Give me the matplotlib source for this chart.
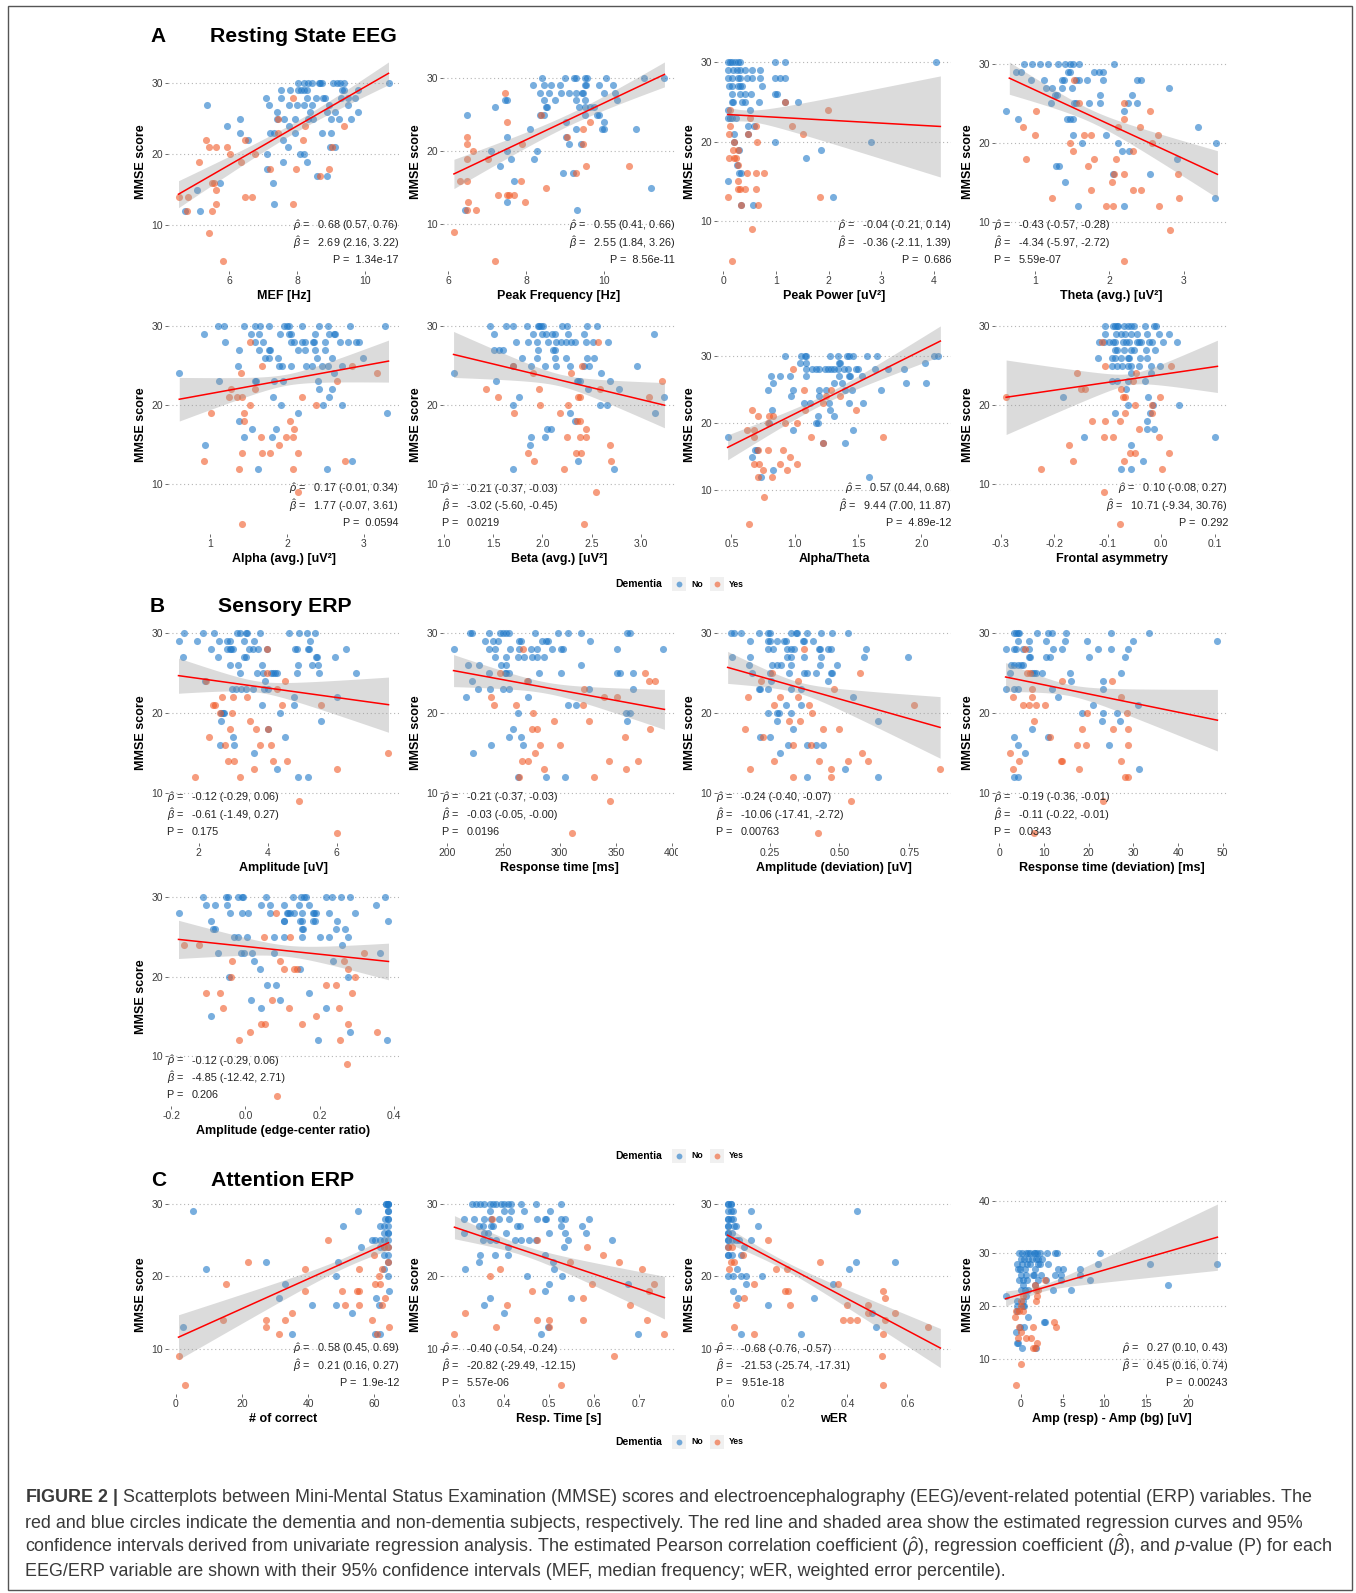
import numpy as np
import matplotlib
matplotlib.use("Agg")
import matplotlib.pyplot as plt
from matplotlib.patches import Rectangle
from matplotlib.lines import Line2D
from matplotlib.transforms import Bbox, TransformedBbox

plt.rcParams['font.family'] = ['Liberation Sans', 'DejaVu Sans']
plt.rcParams['mathtext.fontset'] = 'custom'
plt.rcParams['mathtext.rm'] = 'Liberation Sans'
plt.rcParams['mathtext.it'] = 'Liberation Sans:italic'
plt.rcParams['mathtext.bf'] = 'Liberation Sans:bold'
plt.rcParams['axes.unicode_minus'] = False

# data: MMSE score -> list of x values (No = non-dementia, Yes = dementia)
mef_no = {30: [8.02, 8.2, 8.32, 8.44, 8.64, 8.69, 8.74, 9.08, 9.18, 9.28, 9.38, 10.71],
          29: [7.52, 7.78, 8.04, 8.12, 8.2, 8.3, 9.33, 9.38, 9.82],
          28: [7.09, 7.52, 8.3, 8.55, 8.78, 8.83, 9.3, 9.5, 9.72],
          27: [5.33, 7.16, 7.75, 8.0, 8.2, 8.44, 8.96, 9.5],
          26: [7.4, 8.39, 8.88, 9.13, 9.82],
          25: [6.3, 7.4, 7.62, 7.93, 8.32, 8.47, 9.0, 9.25, 9.6],
          24: [5.94, 7.76], 23: [6.32, 7.2, 7.32, 7.95, 8.74, 9.0], 22: [6.56, 7.6],
          21: [7.73, 8.98, 9.13], 20: [7.1, 8.1, 8.2], 19: [7.58, 8.3], 18: [7.11],
          17: [8.59, 8.89], 16: [5.73, 7.3], 15: [5.03], 13: [7.33], 12: [4.69, 5.13]}
mef_yes = {28: [7.87], 25: [7.45], 24: [8.25, 9.38], 23: [7.45], 22: [5.3, 6.46, 8.18],
           21: [5.4, 5.59, 5.94, 9.05], 20: [6.03, 6.76], 19: [5.11, 6.33], 18: [7.19, 7.98, 8.94],
           17: [8.69], 16: [5.47, 5.54], 15: [5.6], 14: [4.49, 4.76, 6.45, 6.68], 13: [5.6, 7.88],
           12: [4.74, 5.48], 9: [5.39], 5: [5.82]}
mef_fit = {"x": [4.49, 10.71], "y": [14.4, 31.4], "hw": [1.9, 0.75, 1.6]}

pf_no = {30: [8.41, 8.99, 9.24, 9.27, 9.51, 9.56, 10.05, 11.03, 11.54],
         29: [8.18, 8.45, 8.65, 8.86, 9.51, 9.54, 9.88, 10.24],
         28: [8.35, 8.59, 8.9, 9.1, 9.27, 9.43, 9.47, 10.01, 10.29],
         27: [7.47, 7.5, 8.45, 8.75, 9.27, 9.51, 10.33],
         26: [7.2, 8.54, 8.5, 9.37, 9.51, 9.65, 9.74],
         25: [6.48, 8.35, 8.45, 9.5, 9.81, 9.88], 24: [9.03, 10.01],
         23: [8.11, 9.27, 9.95, 10.01, 10.83], 22: [7.5, 9.02], 21: [9.1, 9.4],
         20: [7.09, 7.5, 8.29], 19: [7.61, 8.2], 18: [7.33], 17: [8.95, 9.2], 16: [7.7],
         15: [11.21], 13: [7.5], 12: [6.44, 9.31]}
pf_yes = {28: [7.47], 25: [8.38], 24: [7.5, 9.65], 23: [9.47], 22: [6.48, 9.06],
          21: [6.48, 7.9, 9.47], 20: [6.65], 19: [6.49, 7.02], 18: [9.54, 10.63], 17: [9.27],
          16: [6.31, 6.48, 7.88], 15: [8.52], 14: [7.29, 7.5, 7.55, 7.7], 13: [6.52, 7.97],
          12: [6.48, 6.72], 9: [6.14], 5: [7.2]}
pf_fit = {"x": [6.15, 11.55], "y": [16.9, 30.5], "hw": [2.0, 0.8, 1.7]}

pp_no = {30: [0.08, 0.13, 0.17, 0.22, 0.27, 0.32, 0.98, 1.16, 4.04],
         29: [0.08, 0.19, 0.25, 0.32, 0.41, 0.55, 0.7],
         28: [0.08, 0.17, 0.27, 0.32, 0.44, 0.55, 0.7, 0.98, 1.07, 1.17],
         27: [0.11, 0.17, 0.27, 0.32, 0.36, 0.74], 26: [0.16, 0.32, 0.41, 0.52, 0.98, 1.01],
         25: [0.17, 0.19, 0.35, 0.41, 0.68, 1.17, 1.42], 24: [0.08, 0.5],
         23: [0.08, 0.13, 0.17, 0.23], 22: [0.46, 0.59], 21: [0.2, 0.47], 20: [0.2, 0.98, 2.81],
         19: [0.3, 1.85], 18: [1.56], 17: [0.25], 16: [0.3, 0.34], 15: [0.08], 13: [2.08],
         12: [0.34, 0.57]}
pp_yes = {25: [1.17], 24: [0.13, 1.98], 23: [0.5], 22: [0.13, 0.61, 1.31], 21: [0.11, 0.47, 1.52],
          20: [0.2, 0.64], 19: [0.19, 0.28], 18: [0.11, 0.2, 0.23], 17: [0.28],
          16: [0.44, 0.61, 0.78], 15: [0.27], 14: [0.27, 0.32, 0.41, 0.61], 13: [0.08, 1.83],
          12: [0.34, 0.66], 9: [0.55], 5: [0.16]}
pp_fit = {"x": [0.08, 4.12], "y": [23.4, 21.9], "hw": [0.9, 0.7, 6.35]}

th_no = {30: [0.86, 0.96, 1.07, 1.18, 1.31, 1.41, 1.48, 1.52, 1.6, 2.07],
         29: [0.75, 0.81, 1.45, 1.48, 1.8, 1.86, 1.91],
         28: [0.95, 1.13, 1.36, 1.39, 1.56, 1.6, 1.7, 1.91, 2.37, 2.43],
         27: [1.15, 1.23, 1.36, 1.5, 2.8], 26: [1.27, 1.3, 1.88, 2.3],
         25: [1.22, 1.53, 1.56, 1.73, 1.88, 2.25, 2.37], 24: [0.61, 2.2],
         23: [0.77, 1.43, 1.48, 1.52], 22: [3.19], 21: [1.52, 1.95], 20: [1.63, 2.12, 3.43],
         19: [2.17, 2.27], 18: [2.91], 17: [1.29, 1.32], 16: [2.05, 2.55], 15: [1.41],
         13: [3.42], 12: [1.58, 2.2]}
th_yes = {28: [1.53], 25: [1.6, 2.2], 24: [1.02, 2.55], 23: [2.2], 22: [0.84, 2.12, 2.41],
          21: [1.01, 1.66, 1.75, 2.66], 20: [1.48, 2.57], 19: [1.52, 2.32], 18: [0.89, 1.8, 2.09],
          17: [1.72], 16: [2.07, 2.2, 2.92], 15: [2.03], 14: [1.75, 2.32, 2.43], 13: [1.23, 2.94],
          12: [1.95, 2.05, 2.67], 9: [2.81], 5: [2.2]}
th_fit = {"x": [0.66, 3.45], "y": [28.2, 16.0], "hw": [2.05, 0.8, 3.0]}

al_no = {30: [1.1, 1.18, 1.44, 1.58, 1.65, 1.76, 1.96, 2.0, 2.03, 2.19, 2.42, 2.53, 2.82, 3.27],
         29: [0.92, 1.53, 1.64, 1.91, 2.02, 2.05, 2.36, 2.55, 2.61, 2.62],
         28: [1.2, 1.59, 1.69, 2.05, 2.09, 2.2, 2.24, 2.34, 2.35, 2.49, 2.69, 2.79, 2.9, 2.94],
         27: [1.37, 1.63, 1.76, 1.78, 2.14, 2.24, 2.37, 2.49],
         26: [1.71, 1.77, 1.88, 2.39, 2.59, 2.99],
         25: [1.36, 1.9, 1.93, 2.05, 2.25, 2.32, 2.46, 2.53, 2.72], 24: [0.59, 2.61],
         23: [1.11, 1.58, 1.6, 1.83, 1.95, 2.4], 22: [2.41, 2.59], 21: [1.82, 2.55],
         20: [1.92, 2.47, 2.71], 19: [2.14, 3.3], 18: [1.37], 17: [1.55, 1.86], 16: [1.44, 1.8],
         15: [0.94], 13: [2.84], 12: [1.62, 2.52]}
al_yes = {28: [1.52], 25: [1.67, 2.85], 24: [1.4, 3.17], 23: [2.65], 22: [1.27, 1.59],
          21: [1.25, 1.35, 1.42, 2.19], 20: [1.52, 2.38], 19: [1.01, 1.44], 18: [1.44, 2.04],
          17: [2.09], 16: [1.66, 1.99, 2.08], 15: [1.9], 14: [1.42, 1.67, 1.78, 2.14],
          13: [0.92, 2.76], 12: [1.37, 2.08], 9: [2.14], 5: [1.42]}
al_fit = {"x": [0.6, 3.32], "y": [20.75, 25.56], "hw": [2.75, 0.7, 2.65]}

be_no = {30: [1.47, 1.63, 1.7, 1.85, 1.96, 1.97, 1.99, 2.01, 2.2, 2.25, 2.45, 2.56],
         29: [1.51, 1.91, 2.0, 2.04, 2.1, 2.13, 2.26, 2.42, 3.13],
         28: [1.73, 1.86, 1.95, 2.06, 2.14, 2.19, 2.24, 2.29, 2.33, 2.44, 2.51, 2.67],
         27: [1.51, 1.56, 1.6, 1.96, 2.11, 2.13], 26: [1.79, 1.95, 2.13, 2.24, 2.45, 2.53],
         25: [1.7, 1.89, 2.03, 2.14, 2.28, 2.42, 2.47, 2.96], 24: [1.1, 2.6],
         23: [1.53, 2.35, 2.36, 2.38, 2.69], 22: [2.46, 2.78], 21: [1.76, 3.24],
         20: [1.7, 2.59, 2.66], 19: [2.28, 3.14], 18: [2.33], 17: [2.05, 2.09], 16: [1.89, 2.03],
         15: [1.88], 13: [2.36], 12: [1.7, 2.73]}
be_yes = {28: [2.57], 25: [1.7, 2.4], 24: [1.91, 2.29], 23: [3.22], 22: [1.43, 1.97, 2.59],
          21: [1.55, 2.36, 2.38, 3.08], 20: [1.98, 2.26], 19: [1.71, 2.18], 18: [2.35, 2.38],
          17: [2.44], 16: [2.25, 2.38, 2.44], 15: [2.69], 14: [1.86, 2.34, 2.39], 13: [1.92, 2.7],
          12: [2.22], 9: [2.55], 5: [2.42]}
be_fit = {"x": [1.1, 3.24], "y": [26.4, 20.0], "hw": [2.9, 0.75, 2.85]}

at_no = {30: [0.92, 1.05, 1.08, 1.09, 1.28, 1.34, 1.41, 1.43, 1.46, 1.57, 1.65, 2.1, 2.13],
         29: [1.04, 1.09, 1.35, 1.36, 2.03],
         28: [1.09, 1.14, 1.17, 1.19, 1.24, 1.26, 1.29, 1.31, 1.34, 1.39, 1.42, 1.48, 1.5,
              1.63, 1.74, 1.86],
         27: [0.81, 0.88, 0.96, 1.09, 1.35, 1.43, 1.44, 1.53], 26: [0.83, 1.31, 1.37, 1.88, 2.04],
         25: [0.79, 0.99, 1.19, 1.25, 1.4, 1.45, 1.68], 24: [0.97, 1.19],
         23: [1.07, 1.12, 1.27, 1.43, 1.54], 22: [0.82, 1.28], 21: [1.18, 1.31],
         20: [0.8, 1.17, 1.18], 19: [0.99, 1.46], 18: [0.47], 17: [1.22, 1.4], 16: [0.69, 0.7],
         15: [0.66], 13: [0.83], 12: [0.73, 1.59]}
at_yes = {28: [0.99], 25: [1.07, 1.29], 24: [1.25, 1.36], 23: [1.22], 22: [0.66, 1.08, 1.48],
          21: [0.71, 0.8, 0.83], 20: [0.79, 0.92, 1.02], 19: [0.62, 0.68], 18: [0.68, 1.13, 1.7],
          17: [1.22], 16: [0.71, 0.79, 0.91], 15: [0.96], 14: [0.68, 0.72, 0.88, 1.02],
          13: [0.75, 0.94], 12: [0.71, 0.82], 9: [0.76], 5: [0.64]}
at_fit = {"x": [0.47, 2.15], "y": [16.4, 32.2], "hw": [1.85, 0.65, 2.25]}

fa_no = {30: [-0.105, -0.091, -0.087, -0.083, -0.08, -0.069, -0.063, -0.057, -0.051, -0.03,
              -0.013, -0.009],
         29: [-0.105, -0.085, -0.075, -0.067, -0.057, -0.045, -0.027, -0.005, 0.015],
         28: [-0.117, -0.107, -0.098, -0.09, -0.087, -0.071, -0.065, -0.06, -0.045, -0.042,
              -0.037, -0.023, -0.017, 0.003, 0.029],
         27: [-0.087, -0.083, -0.069, -0.057, -0.051, -0.029, -0.011],
         26: [-0.118, -0.093, -0.087, -0.075, -0.063, -0.06, -0.04, -0.027],
         25: [-0.093, -0.083, -0.073, -0.063, -0.057, -0.042, -0.02, -0.002],
         24: [-0.057, -0.02], 23: [-0.093, -0.083, -0.062, -0.03], 22: [-0.065],
         21: [-0.183, -0.025], 20: [-0.063, -0.015, 0.033], 19: [-0.087, -0.021], 18: [-0.027],
         17: [-0.027, -0.013], 16: [-0.145, 0.1], 15: [-0.057], 13: [-0.035], 12: [-0.075, -0.057]}
fa_yes = {28: [-0.111], 25: [-0.105, 0.019], 24: [-0.158, -0.047], 23: [-0.053],
          22: [-0.15, -0.143, -0.075], 21: [-0.291, -0.071, -0.067, -0.002], 20: [-0.05, -0.017],
          19: [-0.067, -0.017], 18: [-0.129, -0.105, -0.078], 17: [-0.042],
          16: [-0.107, -0.09, -0.005], 15: [-0.173], 14: [-0.058, -0.05, 0.015],
          13: [-0.165, -0.069], 12: [-0.225, 0.002], 9: [-0.107], 5: [-0.077]}
fa_fit = {"x": [-0.29, 0.105], "y": [21.0, 24.9], "hw": [4.7, 0.7, 3.3]}

amp_no = {30: [1.58, 2.13, 2.46, 3.11, 3.19, 3.36, 3.41, 3.79, 4.62, 4.91, 5.13, 5.36],
          29: [1.42, 1.95, 2.58, 2.82, 2.9, 3.33, 3.62, 5.24],
          28: [2.36, 2.82, 2.9, 2.94, 3.0, 3.45, 3.58, 3.72, 3.97, 4.78, 4.84, 5.17, 5.2, 6.26],
          27: [1.54, 2.55, 3.31, 3.36, 5.39, 5.44, 5.94], 26: [2.9, 3.13, 3.84, 4.88, 5.29, 5.46],
          25: [3.21, 3.68, 3.87, 4.1, 4.16, 4.2, 4.26, 4.86, 5.49, 6.55], 24: [2.19, 3.91],
          23: [2.97, 3.09, 3.23, 3.38, 3.58, 3.89, 4.0], 22: [4.76, 6.02], 21: [3.84, 4.76],
          20: [2.65, 2.71, 2.75, 4.37], 19: [2.65, 5.55], 18: [4.0], 17: [3.0, 4.49],
          16: [2.63, 3.04], 15: [3.6], 13: [4.26], 12: [4.89, 5.18]}
amp_yes = {28: [3.97], 25: [3.97], 24: [2.22, 4.49], 23: [4.28], 22: [2.68, 3.0, 3.4],
           21: [2.42, 2.48, 4.42, 5.55], 20: [2.63, 2.97], 19: [3.5], 18: [2.9, 3.65, 4.0],
           17: [2.29], 16: [2.77, 3.79, 4.1], 15: [7.5], 14: [2.84, 3.04, 4.16, 4.55],
           13: [3.62, 6.02], 12: [1.9, 3.21], 9: [4.91], 5: [6.0]}
amp_fit = {"x": [1.42, 7.5], "y": [24.67, 21.04], "hw": [2.2, 0.7, 3.45]}

rt_no = {30: [220.6, 222, 237.5, 246.8, 250, 252.4, 254.8, 278.2, 298.4, 307.7, 319, 360.2, 362.5],
         29: [233.7, 240.7, 245.4, 264.2, 265.6, 284.3, 287.6, 290, 327.4],
         28: [206, 237.5, 243.1, 255.7, 264.2, 274.9, 279.6, 293.7, 301.6, 303, 350.8, 392],
         27: [243.1, 252.5, 262.8, 268.9, 275.9, 279.6, 286.2],
         26: [218.7, 229, 247.8, 252.5, 319],
         25: [237.5, 251.5, 252.5, 254.8, 281.5, 301.6, 350.8, 353.2, 364.9], 24: [222, 272.1],
         23: [228.1, 238.4, 250.1, 254.8, 326.5, 364.9], 22: [217.3, 272.1], 21: [307.7, 314.3],
         20: [262.8, 359.3, 362.5], 19: [360.2], 18: [258.5], 17: [254.8, 265.6],
         16: [239.3, 267.4], 15: [223.4], 12: [262.8, 287.6, 304.9]}
rt_yes = {28: [267.4], 25: [246.8, 375.6], 24: [271.2, 378.9, 384.5], 23: [321.8],
          22: [239.3, 339.1, 350.8], 21: [242.2, 261.8, 320.4], 20: [276.8], 19: [295.5, 326],
          18: [275.9, 279.6, 380.3], 17: [357.8], 16: [282.9, 300.7], 15: [278.2],
          14: [266.5, 272.1, 343.8, 369.6], 13: [286.2, 359.3], 12: [264.2, 330.7],
          9: [344.7], 5: [311]}
rt_fit = {"x": [206, 393], "y": [25.3, 20.45], "hw": [2.0, 0.7, 2.5]}

ad_no = {30: [0.111, 0.124, 0.149, 0.212, 0.244, 0.25, 0.326, 0.345, 0.349, 0.384, 0.435,
              0.473, 0.531],
         29: [0.181, 0.244, 0.25, 0.277, 0.302, 0.307, 0.368, 0.372, 0.406],
         28: [0.244, 0.263, 0.311, 0.326, 0.339, 0.426, 0.429, 0.46, 0.468, 0.594],
         27: [0.116, 0.181, 0.311, 0.326, 0.372, 0.435, 0.588, 0.746],
         26: [0.177, 0.258, 0.277, 0.292, 0.326, 0.429, 0.492],
         25: [0.187, 0.25, 0.321, 0.372, 0.384, 0.416, 0.468, 0.473], 24: [0.254, 0.46],
         23: [0.212, 0.216, 0.244, 0.326, 0.364], 22: [0.55], 21: [0.307, 0.364],
         20: [0.244, 0.277, 0.282, 0.326], 19: [0.277, 0.639], 18: [0.334], 17: [0.216, 0.25],
         16: [0.315, 0.384, 0.416, 0.441], 15: [0.288], 13: [0.521], 12: [0.384, 0.639]}
ad_yes = {28: [0.372], 25: [0.258, 0.574], 24: [0.219, 0.353], 23: [0.479],
          22: [0.174, 0.288, 0.353], 21: [0.267, 0.391, 0.765], 20: [0.403], 19: [0.321, 0.359],
          18: [0.162, 0.441, 0.498], 17: [0.225], 16: [0.334, 0.397], 15: [0.582],
          14: [0.267, 0.426, 0.531, 0.601], 13: [0.181, 0.468, 0.861], 12: [0.334, 0.468],
          9: [0.54], 5: [0.422]}
ad_fit = {"x": [0.1, 0.86], "y": [25.7, 18.2], "hw": [2.0, 0.7, 3.85]}

rd_no = {30: [3.3, 3.8, 4.2, 4.5, 8.4, 10.8, 11.7, 15, 24.9, 33.5],
         29: [4.2, 6.6, 10.5, 14.6, 19.7, 29.9, 48.8],
         28: [1.4, 3.3, 3.8, 5.4, 6.6, 12, 14.1, 22.1, 24.9, 28.9],
         27: [6.6, 6.9, 10.5, 11.4, 20.1, 28.1], 26: [2.6, 3.3, 4.2, 4.8, 5.4],
         25: [2.4, 7.2, 7.8, 8.1, 9.6, 15.8, 27.3], 24: [16.1, 23.3],
         23: [1.4, 3.3, 4.2, 11.7, 23.3], 22: [13.2], 21: [20.9, 31.1], 20: [18.5, 23.3, 26.3],
         19: [23, 26.9], 18: [7.2], 17: [3.3, 11], 16: [4.2, 24.5], 15: [5.7], 13: [31.3],
         12: [3.3, 4.2]}
rd_yes = {28: [5.7], 25: [6.2, 6.9], 24: [14.1, 25.1], 23: [7.4], 22: [3, 7.2, 27.3],
          21: [5.4, 6.6, 8.1, 10.2], 20: [19.7, 28.5], 19: [7.8], 18: [18.5, 25.4, 28.9],
          17: [11.4], 16: [17.3, 19.4, 28.9], 15: [2.4], 14: [4.5, 13.8, 14.1, 27.3],
          13: [3, 17.9], 12: [28.1, 28.7], 9: [23.3], 5: [7.8]}
rd_fit = {"x": [1.4, 48.8], "y": [24.5, 19.1], "hw": [1.8, 0.7, 3.85]}

ec_no = {30: [-0.114, -0.051, -0.048, -0.021, -0.009, -0.006, 0.056, 0.128, 0.149, 0.157, 0.164,
              0.217, 0.233, 0.257, 0.282, 0.376],
         29: [-0.107, -0.083, -0.049, 0.042, 0.065, 0.105, 0.143, 0.17, 0.352],
         28: [-0.179, -0.042, -0.009, 0.006, 0.067, 0.112, 0.114, 0.119, 0.132, 0.152, 0.182,
              0.185, 0.191, 0.226, 0.295],
         27: [-0.092, 0.103, 0.105, 0.146, 0.152, 0.182, 0.188, 0.246, 0.383],
         26: [-0.087, -0.081, 0.152, 0.155, 0.244, 0.268],
         25: [-0.031, -0.021, 0.004, 0.078, 0.103, 0.152, 0.2, 0.226, 0.277], 24: [0.26],
         23: [-0.074, -0.013, -0.004, 0.018, 0.078, 0.361], 22: [0.024, 0.237], 21: [0.038, 0.146],
         20: [-0.045, 0.277], 19: [0.058, 0.081], 18: [0.17], 17: [0.015, 0.094],
         16: [0.042, 0.217], 15: [-0.092], 13: [0.282], 12: [0.194, 0.382]}
ec_yes = {28: [0.081], 25: [0.051, 0.119], 24: [-0.164, -0.125], 23: [0.319],
          22: [-0.036, 0.094, 0.264], 21: [0.105, 0.13, 0.139, 0.275], 20: [-0.04, 0.295],
          19: [0.217, 0.244], 18: [-0.105, -0.069, 0.286], 17: [0.072], 16: [-0.06, 0.116, 0.253],
          15: [0.191], 14: [0.042, 0.054, 0.152, 0.277], 13: [0.013, 0.353], 12: [-0.018, 0.255],
          9: [0.273], 5: [0.085]}
ec_fit = {"x": [-0.18, 0.385], "y": [24.67, 21.9], "hw": [2.4, 0.7, 2.3]}

nc_no = {30: [64, 64, 64, 63.5, 63.5], 29: [5.1, 55.2, 64, 64], 28: [64, 64, 63.2],
         27: [50.4, 64, 62.9, 61.6], 26: [64, 64, 62.9], 25: [64, 62.9, 61.6, 60.3, 59.2],
         24: [56, 64, 62.9, 61.6], 23: [64, 62.9], 22: [27.2, 49.1, 64], 21: [9.1, 62.9],
         20: [48.3, 64], 19: [33.1], 18: [64.3], 17: [31.2, 60.5], 16: [41.1, 48.3, 61.3],
         15: [53.3], 13: [2.1], 12: [35.2, 60.3, 61.6]}
nc_yes = {25: [46.1], 24: [62.9, 64], 23: [60], 22: [21.9, 64], 21: [39.2, 55.5, 62.4],
          20: [61.3], 19: [15.2, 60.3, 61.6], 18: [39.2, 50.1, 54.9, 55.5], 17: [63.2],
          16: [51.2, 55.5, 62.4], 15: [35.2], 14: [14.4, 27.2, 33.1, 59.2], 13: [27.2, 64.3],
          12: [31.2, 60.8], 9: [0.8], 5: [2.9]}
nc_fit = {"x": [0.8, 64.3], "y": [11.6, 24.65], "hw": [3.1, 0.7, 1.0]}

rs_no = {30: [0.329, 0.338, 0.347, 0.356, 0.368, 0.376, 0.382, 0.394, 0.4, 0.408, 0.415, 0.438,
              0.471, 0.526],
         29: [0.368, 0.4, 0.415, 0.444, 0.502],
         28: [0.312, 0.333, 0.356, 0.371, 0.388, 0.412, 0.474, 0.491, 0.494, 0.526, 0.535, 0.588],
         27: [0.345, 0.353, 0.371, 0.376, 0.429, 0.435, 0.526, 0.573],
         26: [0.312, 0.356, 0.365, 0.404, 0.5, 0.535, 0.582],
         25: [0.353, 0.368, 0.382, 0.424, 0.438, 0.455, 0.471, 0.541, 0.639], 24: [0.408, 0.533],
         23: [0.347, 0.38, 0.408, 0.491], 22: [0.345, 0.509], 21: [0.314, 0.512],
         20: [0.451, 0.529], 19: [0.5, 0.676], 18: [0.491], 17: [0.368, 0.549], 16: [0.356],
         15: [0.4], 13: [0.498], 12: [0.482, 0.698]}
rs_yes = {28: [0.373], 25: [0.474], 24: [0.585], 23: [0.62], 22: [0.547, 0.655],
          21: [0.392, 0.706], 20: [0.368], 19: [0.596, 0.733], 18: [0.462, 0.721], 17: [0.576],
          16: [0.406, 0.679], 15: [0.314], 14: [0.474, 0.5, 0.576, 0.718], 13: [0.382, 0.5],
          12: [0.288, 0.756], 9: [0.644], 5: [0.526]}
rs_fit = {"x": [0.29, 0.756], "y": [26.8, 17.07], "hw": [1.6, 0.7, 2.95]}

wer_no = {30: [0.0, 0.0, 0.01, 0.01], 29: [0.0, 0.01, 0.019, 0.078, 0.432],
          28: [0.0, 0.0, 0.01, 0.019], 27: [0.0, 0.0, 0.022, 0.027, 0.101], 26: [0.0, 0.0, 0.014],
          25: [0.0, 0.0, 0.014, 0.027, 0.039, 0.078], 24: [0.0, 0.056], 23: [0.0, 0.0, 0.014, 0.044],
          22: [0.427, 0.557], 21: [0.03, 0.405], 20: [0.0, 0.017, 0.044, 0.061, 0.115],
          19: [0.061, 0.351], 18: [0.017], 17: [0.034, 0.287], 16: [0.135], 15: [0.483],
          13: [0.495], 12: [0.044, 0.246]}
wer_yes = {25: [0.135], 24: [0.0, 0.014], 23: [0.051], 22: [0.01, 0.022, 0.309],
           21: [0.005, 0.162, 0.199], 19: [0.089, 0.368], 18: [0.191, 0.203, 0.52],
           17: [0.056, 0.524], 16: [0.027, 0.208, 0.398, 0.469], 15: [0.469, 0.557],
           14: [0.385, 0.41, 0.432, 0.524], 13: [0.022, 0.668], 12: [0.089, 0.52],
           9: [0.516], 5: [0.52]}
wer_fit = {"x": [0.0, 0.71], "y": [25.7, 10.1], "hw": [1.1, 0.6, 2.7]}

ab_no = {30: [-0.2, 0.2, 0.6, 0.89, 1.13, 1.54, 1.7, 1.94, 2.34, 3.15, 4.12, 4.36, 9.49],
         29: [0.0, 0.4, 0.89, 1.29, 1.82, 2.1, 2.5],
         28: [-0.4, 0.2, 0.73, 1.13, 2.1, 2.34, 3.23, 9.21, 15.43, 23.5],
         27: [-0.32, -0.08, 0.48, 1.7, 4.44, 5.05, 7.07],
         26: [0.08, 0.6, 1.41, 1.62, 2.42, 4.04, 4.77, 7.07],
         25: [-0.2, 0.32, 0.73, 2.1, 3.03, 4.77, 8.28], 24: [0.32, 1.7, 17.58],
         23: [0.08, 0.48, 0.89, 3.84, 5.98], 22: [-1.82, 0.6], 21: [-0.48, 0.32],
         20: [-0.48, 0.32, 0.4], 19: [-0.48], 18: [0.89], 17: [2.75, 2.91], 16: [-0.08, 0.4],
         15: [-0.61], 13: [-0.48, -0.32], 12: [0.2, 1.82]}
ab_yes = {25: [2.91], 24: [1.7], 23: [1.82, 2.1], 22: [0.32, 1.94], 21: [0.08, 1.82], 20: [0.08],
          19: [-0.61, -0.2, 0.32], 18: [-0.73], 17: [3.96], 16: [-0.2, 1.41, 4.24], 15: [0.0],
          14: [-0.32, 0.6, 1.21], 13: [1.94], 12: [1.41, 1.7], 9: [0.08], 5: [-0.61]}
ab_fit = {"x": [-1.82, 23.5], "y": [21.4, 33.1], "hw": [1.45, 0.65, 6.3]}

# stats text: rho, beta, P
stats = {
    "mef": ["0.68 (0.57, 0.76)", "2.69 (2.16, 3.22)", "1.34e-17"],
    "pf": ["0.55 (0.41, 0.66)", "2.55 (1.84, 3.26)", "8.56e-11"],
    "pp": ["-0.04 (-0.21, 0.14)", "-0.36 (-2.11, 1.39)", "0.686"],
    "th": ["-0.43 (-0.57, -0.28)", "-4.34 (-5.97, -2.72)", "5.59e-07"],
    "al": ["0.17 (-0.01, 0.34)", "1.77 (-0.07, 3.61)", "0.0594"],
    "be": ["-0.21 (-0.37, -0.03)", "-3.02 (-5.60, -0.45)", "0.0219"],
    "at": ["0.57 (0.44, 0.68)", "9.44 (7.00, 11.87)", "4.89e-12"],
    "fa": ["0.10 (-0.08, 0.27)", "10.71 (-9.34, 30.76)", "0.292"],
    "amp": ["-0.12 (-0.29, 0.06)", "-0.61 (-1.49, 0.27)", "0.175"],
    "rt": ["-0.21 (-0.37, -0.03)", "-0.03 (-0.05, -0.00)", "0.0196"],
    "ad": ["-0.24 (-0.40, -0.07)", "-10.06 (-17.41, -2.72)", "0.00763"],
    "rd": ["-0.19 (-0.36, -0.01)", "-0.11 (-0.22, -0.01)", "0.0343"],
    "ec": ["-0.12 (-0.29, 0.06)", "-4.85 (-12.42, 2.71)", "0.206"],
    "nc": ["0.58 (0.45, 0.69)", "0.21 (0.16, 0.27)", "1.9e-12"],
    "rs": ["-0.40 (-0.54, -0.24)", "-20.82 (-29.49, -12.15)", "5.57e-06"],
    "wer": ["-0.68 (-0.76, -0.57)", "-21.53 (-25.74, -17.31)", "9.51e-18"],
    "ab": ["0.27 (0.10, 0.43)", "0.45 (0.16, 0.74)", "0.00243"],
}

# key, row, col, no, yes, fit, xlabel, xticks, xticklabels, stats side
panels = [
    ("mef", 0, 0, mef_no, mef_yes, mef_fit, "MEF [Hz]", [6, 8, 10], ["6", "8", "10"], "right"),
    ("pf", 0, 1, pf_no, pf_yes, pf_fit, "Peak Frequency [Hz]", [6, 8, 10], ["6", "8", "10"], "right"),
    ("pp", 0, 2, pp_no, pp_yes, pp_fit, "Peak Power [uV²]", [0, 1, 2, 3, 4],
     ["0", "1", "2", "3", "4"], "right"),
    ("th", 0, 3, th_no, th_yes, th_fit, "Theta (avg.) [uV²]", [1, 2, 3], ["1", "2", "3"], "left"),
    ("al", 1, 0, al_no, al_yes, al_fit, "Alpha (avg.) [uV²]", [1, 2, 3], ["1", "2", "3"], "right"),
    ("be", 1, 1, be_no, be_yes, be_fit, "Beta (avg.) [uV²]", [1.0, 1.5, 2.0, 2.5, 3.0],
     ["1.0", "1.5", "2.0", "2.5", "3.0"], "left"),
    ("at", 1, 2, at_no, at_yes, at_fit, "Alpha/Theta", [0.5, 1.0, 1.5, 2.0],
     ["0.5", "1.0", "1.5", "2.0"], "right"),
    ("fa", 1, 3, fa_no, fa_yes, fa_fit, "Frontal asymmetry", [-0.3, -0.2, -0.1, 0.0, 0.1],
     ["-0.3", "-0.2", "-0.1", "0.0", "0.1"], "right"),
    ("amp", 2, 0, amp_no, amp_yes, amp_fit, "Amplitude [uV]", [2, 4, 6], ["2", "4", "6"], "left"),
    ("rt", 2, 1, rt_no, rt_yes, rt_fit, "Response time [ms]", [200, 250, 300, 350, 400],
     ["200", "250", "300", "350", "400"], "left"),
    ("ad", 2, 2, ad_no, ad_yes, ad_fit, "Amplitude (deviation) [uV]", [0.25, 0.5, 0.75],
     ["0.25", "0.50", "0.75"], "left"),
    ("rd", 2, 3, rd_no, rd_yes, rd_fit, "Response time (deviation) [ms]", [0, 10, 20, 30, 40, 50],
     ["0", "10", "20", "30", "40", "50"], "left"),
    ("ec", 3, 0, ec_no, ec_yes, ec_fit, "Amplitude (edge-center ratio)", [-0.2, 0.0, 0.2, 0.4],
     ["-0.2", "0.0", "0.2", "0.4"], "left"),
    ("nc", 4, 0, nc_no, nc_yes, nc_fit, "# of correct", [0, 20, 40, 60], ["0", "20", "40", "60"], "right"),
    ("rs", 4, 1, rs_no, rs_yes, rs_fit, "Resp. Time [s]", [0.3, 0.4, 0.5, 0.6, 0.7],
     ["0.3", "0.4", "0.5", "0.6", "0.7"], "left"),
    ("wer", 4, 2, wer_no, wer_yes, wer_fit, "wER", [0.0, 0.2, 0.4, 0.6], ["0.0", "0.2", "0.4", "0.6"], "left"),
    ("ab", 4, 3, ab_no, ab_yes, ab_fit, "Amp (resp) - Amp (bg) [uV]", [0, 5, 10, 15, 20],
     ["0", "5", "10", "15", "20"], "right"),
]

W, H = 1356, 1593
BLUE = "#1f78c8"
ORANGE = "#f05a28"
cols = [(168, 399), (443, 675), (717, 951), (995, 1228)]
rows = [(52, 271), (316, 534), (623, 843), (887, 1106), (1195, 1394)]

fig = plt.figure(figsize=(W / 100, H / 100), dpi=100)


def to_xy(d):
    xs, ys = [], []
    for score, vals in d.items():
        xs += vals
        ys += [score] * len(vals)
    return np.array(xs, float), np.array(ys, float)


def ribbon(fit):
    x0, x1 = fit["x"]
    y0, y1 = fit["y"]
    hl, hc, hr = fit["hw"]
    r = np.sqrt((hl ** 2 - hc ** 2) / (hr ** 2 - hc ** 2))
    xc = (x0 + r * x1) / (1 + r)
    k = (hr ** 2 - hc ** 2) / (x1 - xc) ** 2
    xs = np.linspace(x0, x1, 100)
    ys = y0 + (y1 - y0) * (xs - x0) / (x1 - x0)
    hw = np.sqrt(hc ** 2 + k * (xs - xc) ** 2)
    return xs, ys - hw, ys + hw


for key, r, c, no, yes, fit, xlabel, xticks, xticklabels, side in panels:
    l, rr = cols[c]
    t, b = rows[r]
    ax = fig.add_axes([l / W, 1 - b / H, (rr - l) / W, (b - t) / H])
    xn, yn = to_xy(no)
    xy_, yy_ = to_xy(yes)
    bx, blo, bhi = ribbon(fit)

    ax.scatter(xn, yn, s=26, color=BLUE, alpha=0.6, linewidths=0, zorder=2)
    ax.scatter(xy_, yy_, s=26, color=ORANGE, alpha=0.6, linewidths=0, zorder=2)
    ax.fill_between(bx, blo, bhi, color="#999999", alpha=0.35, linewidth=0, zorder=3)
    ax.plot(fit["x"], fit["y"], color="#ff0000", lw=1.1, zorder=4)

    # ggplot-like 5% expansion
    allx = np.concatenate([xn, xy_, fit["x"]])
    ally = np.concatenate([yn, yy_, blo, bhi])
    dx = (allx.max() - allx.min()) * 0.05
    dy = (ally.max() - ally.min()) * 0.05
    ax.set_xlim(allx.min() - dx, allx.max() + dx)
    ax.set_ylim(ally.min() - dy, ally.max() + dy)

    yt = [v for v in [10, 20, 30, 40] if ally.min() - dy < v < ally.max() + dy]
    ax.set_yticks(yt)
    ax.set_yticklabels([str(v) for v in yt])
    ax.set_xticks(xticks)
    ax.set_xticklabels(xticklabels)
    ax.yaxis.grid(True, linestyle=(0, (1, 2.5)), color="#b5b5b5", lw=0.8)
    ax.set_axisbelow(True)
    for s in ax.spines.values():
        s.set_visible(False)
    ax.tick_params(length=2.2, width=0.6, color="#555555", labelsize=7.5,
                   labelcolor="#3c3c3c", pad=1.5)
    ax.set_xlabel(xlabel, fontsize=9, fontweight="bold", labelpad=3)
    ax.set_ylabel("MMSE score", fontsize=9, fontweight="bold", labelpad=3)

    if key == "rt":
        clip = TransformedBbox(Bbox([[-0.1, -1.0], [1.012, 1.0]]), ax.transAxes)
        for tk in ax.xaxis.get_major_ticks():
            tk.label1.set_clip_box(clip)
            tk.label1.set_clip_on(True)

    # stats annotation
    ph = b - t
    labs = [r"$\hat{\rho}$ =", r"$\hat{\beta}$ =", "P ="]
    offs = [45.5, 28.2, 11.0]
    for lab, val, off in zip(labs, stats[key], offs):
        yy = off / ph
        if side == "right":
            gap = "   " if lab != "P =" else "  "
            ax.text(1.0, yy, lab + gap + val, transform=ax.transAxes, ha="right", va="center",
                    fontsize=7.8, color="#222222", zorder=5)
        else:
            ax.text(-1.0 / (rr - l), yy, lab, transform=ax.transAxes, ha="left", va="center",
                    fontsize=7.8, color="#222222", zorder=5)
            ax.text(24.0 / (rr - l), yy, val, transform=ax.transAxes, ha="left", va="center",
                    fontsize=7.8, color="#222222", zorder=5)

# section titles
for lbl, title, xl, xt, yc in [("A", "Resting State EEG", 150, 210, 36.5),
                               ("B", "Sensory ERP", 150, 218, 606),
                               ("C", "Attention ERP", 151, 211, 1180)]:
    fig.text(xl / W, 1 - yc / H, lbl, fontsize=15, fontweight="bold", va="center", ha="left")
    fig.text(xt / W, 1 - yc / H, title, fontsize=15.3, fontweight="bold", va="center", ha="left")


# legends
def legend_at(yc):
    fig.text(615 / W, 1 - yc / H, "Dementia", fontsize=7.5, fontweight="bold",
             va="center", ha="left")
    for bxp, col, lab in [(672, BLUE, "No"), (710, ORANGE, "Yes")]:
        fig.add_artist(Rectangle((bxp / W, 1 - (yc + 7) / H), 14 / W, 14 / H,
                                 transform=fig.transFigure, facecolor="#f0f0f0", edgecolor="none"))
        fig.add_artist(Line2D([(bxp + 7) / W], [1 - yc / H], marker="o", ms=4.2, color=col,
                              alpha=0.6, linestyle="none", markeredgewidth=0,
                              transform=fig.transFigure))
        fig.text((bxp + 19) / W, 1 - yc / H, lab, fontsize=6.2, fontweight="bold",
                 va="center", ha="left")


for yc in [584, 1156, 1442]:
    legend_at(yc)

# caption
caption = [
    r"$\mathbf{FIGURE\ 2\ |}$ Scatterplots between Mini-Mental Status Examination (MMSE) scores and "
    "electroencephalography (EEG)/event-related potential (ERP) variables. The",
    "red and blue circles indicate the dementia and non-dementia subjects, respectively. The red line "
    "and shaded area show the estimated regression curves and 95%",
    r"confidence intervals derived from univariate regression analysis. The estimated Pearson "
    r"correlation coefficient ($\hat{\rho}$), regression coefficient ($\hat{\beta}$), and $p$-value (P) for each",
    "EEG/ERP variable are shown with their 95% confidence intervals (MEF, median frequency; "
    "wER, weighted error percentile).",
]
for line, yc in zip(caption, [1497, 1522, 1547, 1571]):
    fig.text(25 / W, 1 - (yc + 5.5) / H, line, fontsize=12.9, color="#3a3a3a",
             va="baseline", ha="left")

# outer frame
fig.add_artist(Rectangle((8 / W, 1 - 1590 / H), (1352 - 8) / W, (1590 - 6) / H, fill=False,
                         edgecolor="#555555", lw=1.0, transform=fig.transFigure))

fig.savefig("out.png", dpi=100)
